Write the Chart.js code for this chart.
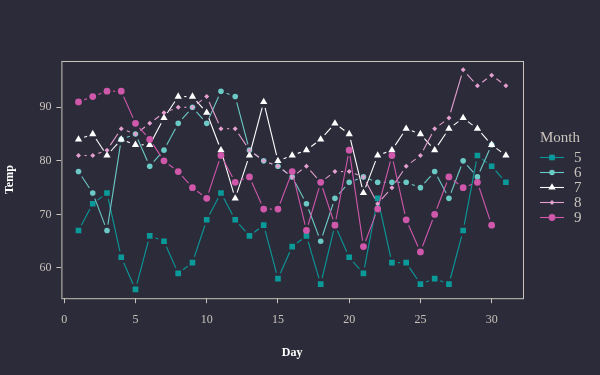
<!DOCTYPE html>
<html>
<head>
<meta charset="utf-8">
<script src="https://cdn.jsdelivr.net/npm/chart.js@4/dist/chart.umd.min.js"></script>
<style>
  html, body { margin: 0; padding: 0; background: #2c2b3a; }
  #wrap { width: 600px; height: 375px; }
</style>
</head>
<body>
<div id="wrap"><canvas id="chart" width="600" height="375"></canvas></div>
<script>
// airquality: Temp by Day, one series per Month
const days = Array.from({ length: 31 }, (_, i) => i + 1);
const months = ["5", "6", "7", "8", "9"];
const temp5 = [67, 72, 74, 62, 56, 66, 65, 59, 61, 69, 74, 69, 66, 68, 58, 64, 66, 57, 68, 62, 59, 73, 61, 61, 57, 58, 57, 67, 81, 79, 76];
const temp6 = [78, 74, 67, 84, 85, 79, 82, 87, 90, 87, 93, 92, 82, 80, 79, 77, 72, 65, 73, 76, 77, 76, 76, 76, 75, 78, 73, 80, 77, 83];
const temp7 = [84, 85, 81, 84, 83, 83, 88, 92, 92, 89, 82, 73, 81, 91, 80, 81, 82, 84, 87, 85, 74, 81, 82, 86, 85, 82, 86, 88, 86, 83, 81];
const temp8 = [81, 81, 82, 86, 85, 87, 89, 90, 90, 92, 86, 86, 82, 80, 79, 77, 79, 76, 78, 78, 77, 72, 75, 79, 81, 86, 88, 97, 94, 96, 94];
const temp9 = [91, 92, 93, 93, 87, 84, 80, 78, 75, 73, 81, 76, 77, 71, 71, 78, 67, 76, 68, 82, 64, 71, 81, 69, 63, 70, 77, 75, 76, 68];
const xTicks = [0, 5, 10, 15, 20, 25, 30];
const yTicks = [60, 70, 80, 90];

const bg = "#2c2b3a";
const fg = "#c9c3bb";
const colors = ["#0a9a9a", "#6ccac6", "#ffffff", "#e39fcf", "#cf58ab"];
const styles = ["rect", "circle", "triangle", "rectRot", "circle"];
const radii = [4, 2.8, 4.2, 2.5, 3.4];
const series = [temp5, temp6, temp7, temp8, temp9];

const datasets = series.map((vals, i) => ({
  label: months[i],
  data: vals.map((v, j) => ({ x: days[j], y: v })),
  showLine: false,
  borderColor: colors[i],
  backgroundColor: colors[i],
  pointStyle: styles[i],
  pointRadius: radii[i],
  pointBorderWidth: 0,
  order: 4 - i,
}));

// lines broken around each point, like type = "b"
const gapLines = {
  id: "gapLines",
  beforeDatasetDraw(chart, args) {
    const meta = args.meta;
    const ds = chart.data.datasets[args.index];
    const ctx = chart.ctx;
    const gap = 6;
    ctx.save();
    ctx.strokeStyle = ds.borderColor;
    ctx.lineWidth = 1.1;
    for (let k = 1; k < meta.data.length; k++) {
      const a = meta.data[k - 1], b = meta.data[k];
      const dx = b.x - a.x, dy = b.y - a.y;
      const len = Math.hypot(dx, dy);
      if (len <= 2 * gap) continue;
      const ux = dx / len, uy = dy / len;
      ctx.beginPath();
      ctx.moveTo(a.x + ux * gap, a.y + uy * gap);
      ctx.lineTo(b.x - ux * gap, b.y - uy * gap);
      ctx.stroke();
    }
    ctx.restore();
  },
};

const panelBox = {
  id: "panelBox",
  afterDraw(chart) {
    const { ctx, chartArea: a } = chart;
    ctx.save();
    ctx.strokeStyle = fg;
    ctx.lineWidth = 1;
    ctx.strokeRect(a.left + 0.5, a.top + 0.5, a.right - a.left, a.bottom - a.top);
    ctx.restore();
  },
};

const sideLegend = {
  id: "sideLegend",
  afterDraw(chart) {
    const ctx = chart.ctx;
    ctx.save();
    ctx.fillStyle = fg;
    ctx.font = "15px 'Liberation Serif', serif";
    ctx.textAlign = "left";
    ctx.textBaseline = "middle";
    ctx.fillText("Month", 540, 138);
    chart.data.datasets.forEach((ds, i) => {
      const y = 157.5 + i * 15;
      ctx.strokeStyle = ds.borderColor;
      ctx.lineWidth = 1.1;
      ctx.beginPath();
      ctx.moveTo(540, y);
      ctx.lineTo(564, y);
      ctx.stroke();
      ctx.fillStyle = ds.backgroundColor;
      Chart.helpers.drawPoint(ctx, { pointStyle: ds.pointStyle, radius: ds.pointRadius, borderWidth: 0 }, 552, y);
      ctx.fillStyle = fg;
      ctx.fillText(ds.label, 574, y + 1);
    });
    ctx.restore();
  },
};

new Chart(document.getElementById("chart"), {
  type: "scatter",
  data: { datasets },
  plugins: [gapLines, panelBox, sideLegend],
  options: {
    responsive: false,
    animation: false,
    layout: { padding: { left: 3, right: 77, top: 61, bottom: 0 } },
    plugins: { legend: { display: false }, tooltip: { enabled: false } },
    scales: {
      x: {
        type: "linear",
        min: -0.2,
        max: 32.2,
        afterBuildTicks: (s) => { s.ticks = xTicks.map((v) => ({ value: v })); },
        grid: { display: true, drawOnChartArea: false, color: fg, tickLength: 5, tickWidth: 1 },
        border: { display: false },
        ticks: { color: fg, font: { family: "'Liberation Serif', serif", size: 12 }, padding: 9, maxRotation: 0 },
        title: { display: true, text: "Day", color: "#ffffff", font: { family: "'Liberation Serif', serif", size: 12, weight: "bold" }, padding: { top: 10, bottom: 15 } },
      },
      y: {
        type: "linear",
        min: 54.36,
        max: 98.64,
        afterBuildTicks: (s) => { s.ticks = yTicks.map((v) => ({ value: v })); },
        grid: { display: true, drawOnChartArea: false, color: fg, tickLength: 5, tickWidth: 1 },
        border: { display: false },
        ticks: { color: fg, font: { family: "'Liberation Serif', serif", size: 12 }, padding: 5 },
        title: { display: true, text: "Temp", color: "#ffffff", font: { family: "'Liberation Serif', serif", size: 12, weight: "bold" }, padding: { top: 0, bottom: 17 } },
      },
    },
  },
});
</script>
</body>
</html>
